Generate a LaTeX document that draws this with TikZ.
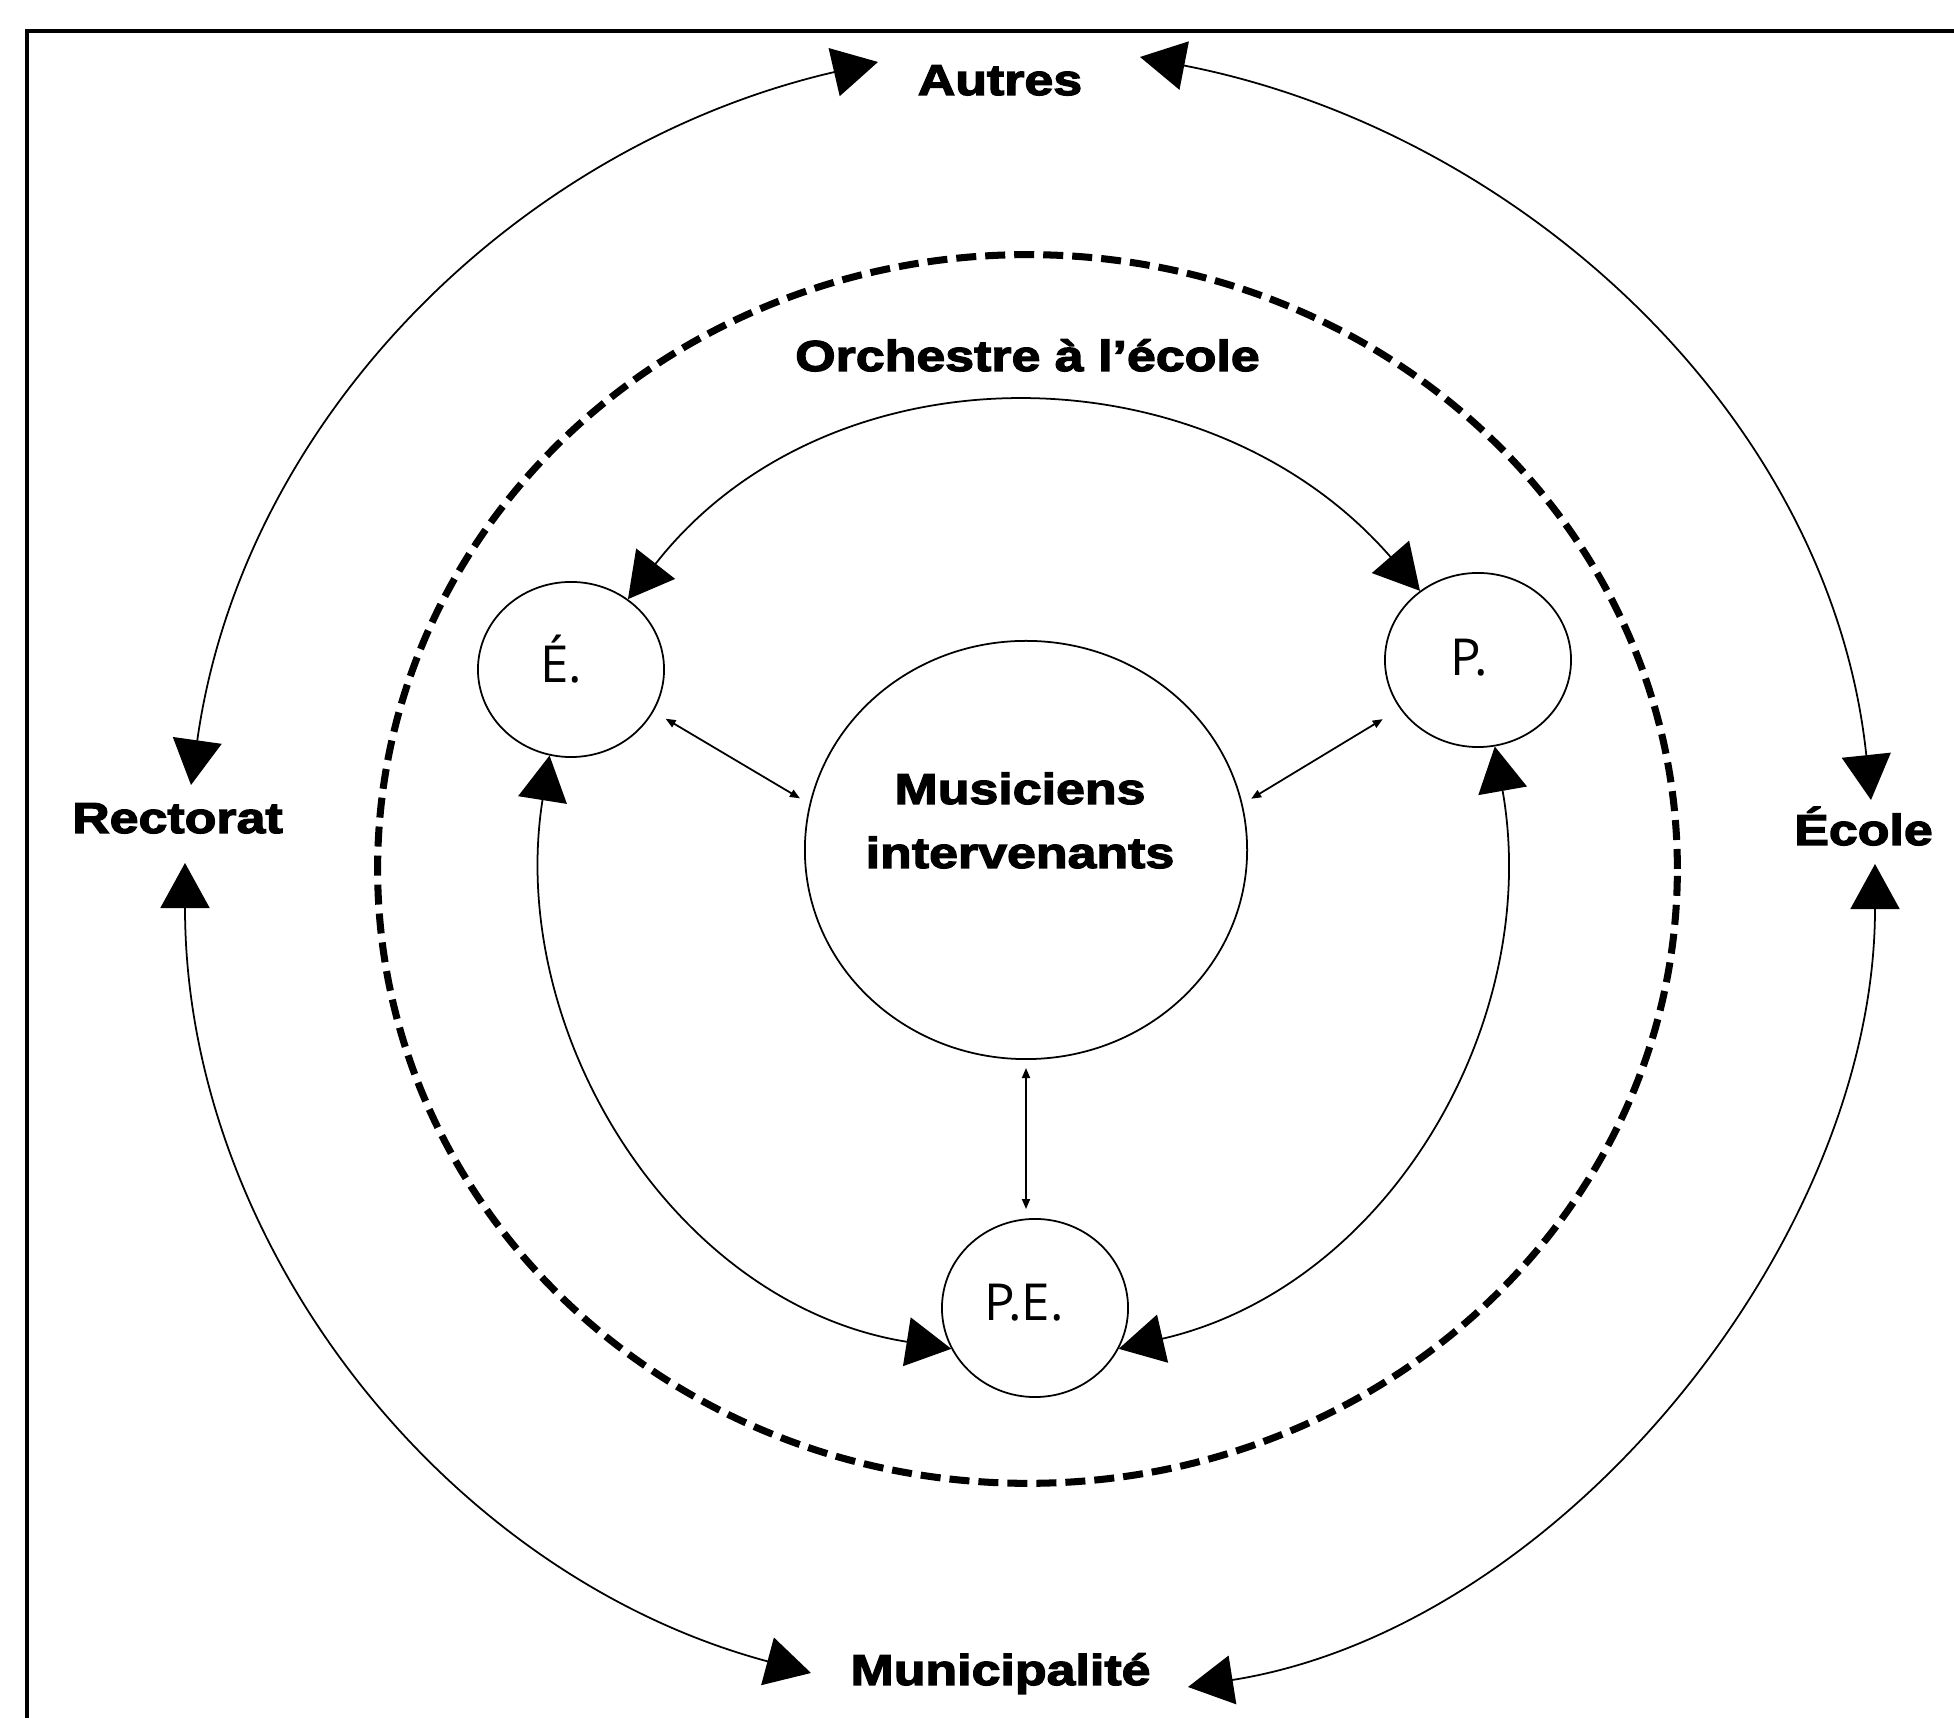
\documentclass[tikz,border=0pt]{standalone}
\usepackage{fontspec}
\newfontfamily\heavyfont{Liberation Sans}[UprightFont=* Bold,FakeStretch=1.2,FakeBold=3]
\newfontfamily\plainfont{Open Sans}
\usetikzlibrary{arrows.meta,shapes.geometric}
\tikzset{
  bubble/.style={draw,ellipse,line width=0.5pt,inner sep=0pt},
  heavy/.style={font=\heavyfont\fontsize{12.3}{18.2}\selectfont,anchor=base},
  initials/.style={font=\plainfont\fontsize{14.5}{17}\selectfont,anchor=base},
  bigtip/.tip={Triangle[length=0.45cm,width=0.49cm]},
  linkarc/.style={line width=0.5pt,bigtip-bigtip},
  twoway/.style={line width=0.5pt,{Triangle[length=0.1cm,width=0.08cm]}-{Triangle[length=0.1cm,width=0.08cm]}}
}
\begin{document}
\begin{tikzpicture}[x=0.01cm,y=0.01cm]
\useasboundingbox (0,0) rectangle (1954,1718);
\draw[line width=1.4pt] (27,0) |- (1954,1687);
\draw[line width=2pt,dash pattern=on 0.2cm off 0.09cm] (1027.5,849) ellipse [x radius=6.495cm,y radius=6.14cm];
\node[heavy] (autres) at (1000,1623) {Autres};
\node[heavy] (rectorat) at (177.5,885) {Rectorat};
\node[heavy] (ecole) at (1863.5,873) {École};
\node[heavy] (municipalite) at (1000.5,33) {Municipalité};
\node[heavy] (orchestre) at (1027.5,1347) {Orchestre à l’école};
\node[bubble,minimum width=4.42cm,minimum height=4.18cm] (mus) at (1026,868) {};
\node[heavy,align=center,anchor=center] (musiciens) at (1020,897.5) {Musiciens\\intervenants};
\node[bubble,minimum width=1.86cm,minimum height=1.75cm] (e) at (571,1048.5) {};
\node[bubble,minimum width=1.86cm,minimum height=1.74cm] (p) at (1478,1058) {};
\node[bubble,minimum width=1.86cm,minimum height=1.78cm] (pe) at (1035,410) {};
\node[initials] (el) at (561.5,1035) {É.};
\node[initials] (pl) at (1469,1042) {P.};
\node[initials] (pel) at (1024,397) {P.E.};
\coordinate (autresL) at (878,1656);
\coordinate (autresR) at (1140,1661);
\coordinate (rectT) at (191,933);
\coordinate (rectB) at (185,855);
\coordinate (ecoleT) at (1871,918);
\coordinate (ecoleB) at (1875,854);
\coordinate (munL) at (811,45);
\coordinate (munR) at (1188,31);
\draw[linkarc] (autresL) to[out=193,in=82,looseness=0.95] (rectT);
\draw[linkarc] (autresR) to[out=-11,in=96,looseness=0.95] (ecoleT);
\draw[linkarc] (rectB) to[out=270,in=165,looseness=0.95] (munL);
\draw[linkarc] (ecoleB) to[out=270,in=9,looseness=0.9] (munR);
\draw[linkarc] (e.51) to[out=52,in=131,looseness=1.05] (p.130);
\draw[linkarc] (e.256) to[out=261,in=171] (pe.206);
\draw[linkarc] (p.281) to[out=280,in=13] (pe.334);
\draw[twoway,shorten <=0.14cm,shorten >=0.11cm] (e.-27) -- (mus.168);
\draw[twoway,shorten <=0.2cm,shorten >=0.1cm] (p.212) -- (mus.12);
\draw[twoway,shorten <=0.08cm,shorten >=0.09cm] (mus.south) -- (mus.south |- pe.north);
\end{tikzpicture}
\end{document}
